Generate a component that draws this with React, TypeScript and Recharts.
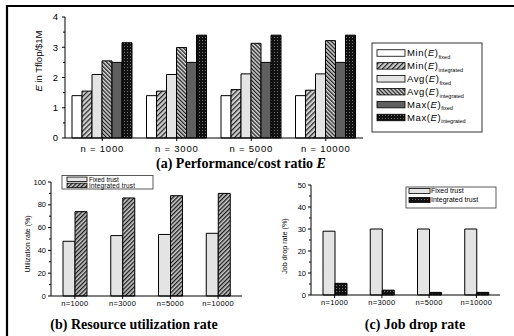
import { BarChart, Bar, XAxis, YAxis } from "recharts";

const categoriesA = ["n = 1000", "n = 3000", "n = 5000", "n = 10000"];
const minFixed = [1.4, 1.4, 1.4, 1.4];
const minIntegrated = [1.55, 1.55, 1.6, 1.58];
const avgFixed = [2.1, 2.1, 2.12, 2.12];
const avgIntegrated = [2.55, 2.99, 3.13, 3.22];
const maxFixed = [2.5, 2.5, 2.5, 2.5];
const maxIntegrated = [3.15, 3.4, 3.4, 3.4];
const ticksA = [0, 0.5, 1, 1.5, 2, 2.5, 3, 3.5, 4];

const categoriesBC = ["n=1000", "n=3000", "n=5000", "n=10000"];
const utilFixed = [48, 53, 54, 55];
const utilIntegrated = [74, 86, 88, 90];
const ticksB = [0, 10, 20, 30, 40, 50, 60, 70, 80, 90, 100];

const dropFixed = [29, 30, 30, 30];
const dropIntegrated = [5.3, 2.2, 1.2, 1.2];
const ticksC = [0, 5, 10, 15, 20, 25, 30, 35, 40, 45, 50];

const SANS = "'Liberation Sans', Arial, sans-serif";
const SERIF = "'Liberation Serif', 'Times New Roman', serif";

const dataA = categoriesA.map((name, i) => ({
  name,
  minFixed: minFixed[i],
  minIntegrated: minIntegrated[i],
  avgFixed: avgFixed[i],
  avgIntegrated: avgIntegrated[i],
  maxFixed: maxFixed[i],
  maxIntegrated: maxIntegrated[i],
}));
const dataB = categoriesBC.map((name, i) => ({
  name,
  fixed: utilFixed[i],
  integrated: utilIntegrated[i],
}));
const dataC = categoriesBC.map((name, i) => ({
  name,
  fixed: dropFixed[i],
  integrated: dropIntegrated[i],
}));

// fills by pattern name, prefix keeps ids unique per svg
const fillFor = (p: string, kind: string) => {
  if (kind === "white") return "#ffffff";
  if (kind === "light") return "#e4e4e4";
  if (kind === "dark") return "#606060";
  return `url(#${p}-${kind})`;
};

const seriesA = [
  { key: "minFixed", label: "Min", sub: "fixed", kind: "white" },
  { key: "minIntegrated", label: "Min", sub: "integrated", kind: "fwd" },
  { key: "avgFixed", label: "Avg", sub: "fixed", kind: "light" },
  { key: "avgIntegrated", label: "Avg", sub: "integrated", kind: "back" },
  { key: "maxFixed", label: "Max", sub: "fixed", kind: "dark" },
  { key: "maxIntegrated", label: "Max", sub: "integrated", kind: "check" },
];

function Patterns({ p }: { p: string }) {
  return (
    <defs>
      <pattern id={`${p}-fwd`} width="3.5" height="3.5" patternUnits="userSpaceOnUse" patternTransform="rotate(45)">
        <rect width="3.5" height="3.5" fill="#cfcfcf" />
        <line x1="0.6" y1="0" x2="0.6" y2="3.5" stroke="#2a2a2a" strokeWidth="1.3" />
      </pattern>
      <pattern id={`${p}-back`} width="2.8" height="2.8" patternUnits="userSpaceOnUse" patternTransform="rotate(-45)">
        <rect width="2.8" height="2.8" fill="#d8d8d8" />
        <line x1="0.6" y1="0" x2="0.6" y2="2.8" stroke="#1a1a1a" strokeWidth="1.3" />
      </pattern>
      <pattern id={`${p}-hatch`} width="3" height="3" patternUnits="userSpaceOnUse" patternTransform="rotate(45)">
        <rect width="3" height="3" fill="#c8c8c8" />
        <line x1="0.6" y1="0" x2="0.6" y2="3" stroke="#1a1a1a" strokeWidth="1.4" />
      </pattern>
      <pattern id={`${p}-check`} width="3" height="3" patternUnits="userSpaceOnUse">
        <rect width="3" height="3" fill="#111" />
        <rect x="1" y="1" width="1" height="1" fill="#777" />
      </pattern>
    </defs>
  );
}

function makeYTick(isMajor: (v: number) => boolean, fontSize: number, majorLen: number, minorLen: number, gap: number) {
  return (props: any) => {
    const { x, y, payload } = props;
    const v = payload.value;
    const big = isMajor(v);
    return (
      <g>
        <line x1={x - (big ? majorLen : minorLen)} x2={x} y1={y} y2={y} stroke="#000" strokeWidth={1} />
        {big && (
          <text x={x - gap} y={y} dy="0.35em" textAnchor="end" fontSize={fontSize} fontFamily={SANS} fill="#000">
            {v}
          </text>
        )}
      </g>
    );
  };
}

function makeXTick(fontSize: number, spacing: number) {
  return (props: any) => {
    const { x, y, payload } = props;
    return (
      <text x={x} y={y} dy="0.71em" textAnchor="middle" fontSize={fontSize} fontFamily={SANS} fill="#000" letterSpacing={spacing}>
        {payload.value}
      </text>
    );
  };
}

function LegendRow({ x, y, w, h, fill, children }: any) {
  return (
    <g>
      <rect x={x} y={y - h / 2} width={w} height={h} fill={fill} stroke="#000" strokeWidth={0.8} />
      {children}
    </g>
  );
}

export default function App() {
  return (
    <div style={{ position: "absolute", left: 0, top: 0, width: 514, height: 336, background: "#fff" }}>
      {/* (a) performance/cost */}
      <div style={{ position: "absolute", left: 0, top: 0 }}>
        <BarChart width={372} height={157} data={dataA} margin={{ top: 17, right: 9, bottom: 0, left: 0 }} barCategoryGap={7} barGap={0}>
          <Patterns p="a" />
          <XAxis dataKey="name" height={19} tickSize={3} tickMargin={4} tickLine={{ stroke: "#000" }} axisLine={{ stroke: "#000" }} tick={makeXTick(9.5, 0.8)} interval={0} />
          <YAxis domain={[0, 4]} ticks={ticksA} interval={0} width={65} tickSize={0} tickMargin={0} tickLine={false} axisLine={{ stroke: "#000" }} tick={makeYTick((v) => Number.isInteger(v), 9.5, 3, 2, 7)} />
          {seriesA.map((s) => (
            <Bar key={s.key} dataKey={s.key} fill={fillFor("a", s.kind)} stroke="#000" strokeWidth={1} isAnimationActive={false} />
          ))}
        </BarChart>
      </div>

      {/* (b) utilization */}
      <div style={{ position: "absolute", left: 0, top: 170 }}>
        <BarChart width={250} height={140} data={dataB} margin={{ top: 12, right: 8, bottom: 0, left: 0 }} barCategoryGap={12} barGap={0}>
          <Patterns p="b" />
          <XAxis dataKey="name" height={14} tickSize={3} tickMargin={1.5} tickLine={{ stroke: "#000" }} axisLine={{ stroke: "#000" }} tick={makeXTick(7.5, 0.3)} interval={0} />
          <YAxis domain={[0, 100]} ticks={ticksB} interval={0} width={51} tickSize={0} tickMargin={0} tickLine={false} axisLine={{ stroke: "#000" }} tick={makeYTick((v) => v % 20 === 0, 7.5, 3, 2, 5)} />
          <Bar dataKey="fixed" fill="#e4e4e4" stroke="#000" strokeWidth={1} isAnimationActive={false} />
          <Bar dataKey="integrated" fill="url(#b-hatch)" stroke="#000" strokeWidth={1} isAnimationActive={false} />
        </BarChart>
      </div>

      {/* (c) job drop */}
      <div style={{ position: "absolute", left: 254, top: 170 }}>
        <BarChart width={254} height={140} data={dataC} margin={{ top: 15, right: 8, bottom: 0, left: 0 }} barCategoryGap={12} barGap={0}>
          <Patterns p="c" />
          <XAxis dataKey="name" height={15} tickSize={3} tickMargin={1.5} tickLine={{ stroke: "#000" }} axisLine={{ stroke: "#000" }} tick={makeXTick(7.5, 0.3)} interval={0} />
          <YAxis domain={[0, 50]} ticks={ticksC} interval={0} width={57} tickSize={0} tickMargin={0} tickLine={false} axisLine={{ stroke: "#000" }} tick={makeYTick((v) => v % 10 === 0, 7.5, 3, 2, 5)} />
          <Bar dataKey="fixed" fill="#e4e4e4" stroke="#000" strokeWidth={1} isAnimationActive={false} />
          <Bar dataKey="integrated" fill="url(#c-check)" stroke="#000" strokeWidth={1} isAnimationActive={false} />
        </BarChart>
      </div>

      {/* frame, titles, axis labels and legends */}
      <svg width={514} height={336} style={{ position: "absolute", left: 0, top: 0, pointerEvents: "none" }}>
        <Patterns p="o" />
        <line x1={7} y1={5} x2={7} y2={336} stroke="#000" strokeWidth={2.2} />
        <line x1={6} y1={6} x2={514} y2={6} stroke="#000" strokeWidth={2.2} />

        <text transform="translate(42,61) rotate(-90)" textAnchor="middle" fontSize={9.5} fontFamily={SANS} fill="#000">
          <tspan fontStyle="italic">E</tspan> in Tflop/$1M
        </text>
        <text transform="translate(30,244) rotate(-90)" textAnchor="middle" fontSize={7} fontFamily={SANS} fill="#000">
          Utilization rate (%)
        </text>
        <text transform="translate(287,246) rotate(-90)" textAnchor="middle" fontSize={7.2} fontFamily={SANS} fill="#000">
          Job drop rate (%)
        </text>

        <text x={241} y={168} textAnchor="middle" fontSize={14} fontWeight="bold" fontFamily={SERIF} fill="#000">
          (a) Performance/cost ratio <tspan fontStyle="italic">E</tspan>
        </text>
        <text x={134} y={329} textAnchor="middle" fontSize={14} fontWeight="bold" fontFamily={SERIF} fill="#000">
          (b) Resource utilization rate
        </text>
        <text x={415} y={329} textAnchor="middle" fontSize={14} fontWeight="bold" fontFamily={SERIF} fill="#000">
          (c) Job drop rate
        </text>

        {/* legend (a) */}
        <rect x={372} y={43} width={110} height={89} fill="#fff" stroke="#333" strokeWidth={1} />
        {seriesA.map((s, i) => {
          const cy = 53 + i * 12.9;
          return (
            <LegendRow key={s.key} x={377} y={cy} w={28} h={6.5} fill={fillFor("o", s.kind)}>
              <text x={407} y={cy} dy="0.35em" fontSize={9.5} fontFamily={SANS} fill="#000" letterSpacing={0.6}>
                {s.label}(<tspan fontStyle="italic">E</tspan>)
                <tspan fontSize={5.5} dy={2.5} letterSpacing={0}>{s.sub}</tspan>
              </text>
            </LegendRow>
          );
        })}

        {/* legend (b) */}
        <rect x={62} y={175.5} width={91} height={13.5} fill="#fff" stroke="#333" strokeWidth={0.8} />
        <LegendRow x={67} y={179.3} w={20} h={4.5} fill="#e4e4e4">
          <text x={89} y={179.3} dy="0.35em" fontSize={6.4} fontFamily={SANS} fill="#000">Fixed trust</text>
        </LegendRow>
        <LegendRow x={67} y={185.4} w={20} h={4.5} fill="url(#o-hatch)">
          <text x={89} y={185.4} dy="0.35em" fontSize={6.4} fontFamily={SANS} fill="#000" letterSpacing={0.2}>Integrated trust</text>
        </LegendRow>

        {/* legend (c) */}
        <rect x={406} y={187} width={90} height={21} fill="#fff" stroke="#333" strokeWidth={0.8} />
        <LegendRow x={409} y={191} w={21} h={5} fill="#e4e4e4">
          <text x={431} y={191} dy="0.35em" fontSize={7} fontFamily={SANS} fill="#000">Fixed trust</text>
        </LegendRow>
        <LegendRow x={409} y={200} w={21} h={5} fill="url(#o-check)">
          <text x={431} y={200} dy="0.35em" fontSize={7} fontFamily={SANS} fill="#000">Integrated trust</text>
        </LegendRow>
      </svg>
    </div>
  );
}
